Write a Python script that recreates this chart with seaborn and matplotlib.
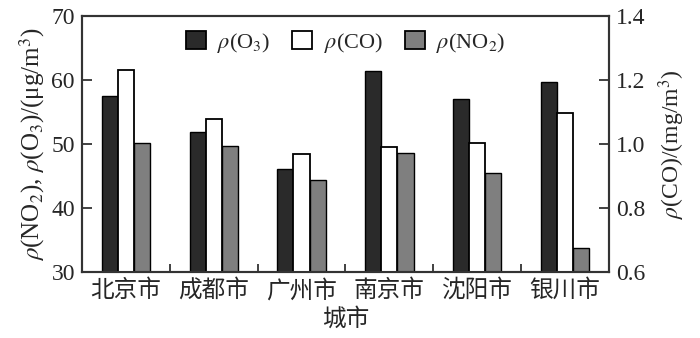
import numpy as np
import pandas as pd
import matplotlib
matplotlib.use("Agg")
import matplotlib.pyplot as plt
from matplotlib.patches import Patch
from matplotlib.ticker import FixedLocator
import seaborn as sns

cities = ["北京市", "成都市", "广州市", "南京市", "沈阳市", "银川市"]
o3 = [57.5, 51.8, 46.1, 61.4, 57.0, 59.6]
co = [1.231, 1.078, 0.969, 0.992, 1.002, 1.096]
no2 = [50.1, 49.7, 44.4, 48.6, 45.4, 33.7]

series = ["O3", "CO", "NO2"]
labels = [r"$\rho$(O$_3$)", r"$\rho$(CO)", r"$\rho$(NO$_2$)"]
colors = {"O3": "#2a2a2a", "CO": "#ffffff", "NO2": "#7f7f7f"}

df = pd.DataFrame({
    "city": cities * 3,
    "pollutant": ["O3"] * 6 + ["CO"] * 6 + ["NO2"] * 6,
    "value": o3 + co + no2,
})

sns.set_theme(style="ticks")
plt.rcParams["font.family"] = ["Liberation Serif", "Noto Sans CJK SC"]
plt.rcParams["mathtext.fontset"] = "stix"

fig = plt.figure(figsize=(7, 3.38), dpi=100)
ax = fig.add_axes([0.117, 0.195, 0.753, 0.758])

left_df = df[df.pollutant != "CO"]
sns.barplot(data=left_df, x="city", y="value", hue="pollutant", hue_order=series,
            order=cities, palette=colors, width=0.55, edgecolor="black", dodge=True,
            linewidth=1.0, ax=ax, legend=False, saturation=1)
ax2 = ax.twinx()
right_df = df[df.pollutant == "CO"]
sns.barplot(data=right_df, x="city", y="value", hue="pollutant", hue_order=series,
            order=cities, palette=colors, width=0.55, edgecolor="black", dodge=True,
            linewidth=1.3, ax=ax2, legend=False, saturation=1)

ax.set_ylim(30, 70)
ax.set_yticks([30, 40, 50, 60, 70])
ax2.set_ylim(0.6, 1.4)
ax2.set_yticks([0.6, 0.8, 1.0, 1.2, 1.4])
ax2.set_yticklabels(["0.6", "0.8", "1.0", "1.2", "1.4"])
ax.set_xlim(-0.5, 5.5)

ax.xaxis.set_minor_locator(FixedLocator([0.5, 1.5, 2.5, 3.5, 4.5]))
ax.tick_params(axis="x", which="major", length=0, labelsize=17, pad=5)
ax.tick_params(axis="x", which="minor", direction="in", length=6, width=1.3, color="#333333")
ax.tick_params(axis="y", direction="in", length=7, width=1.3, labelsize=17, color="#333333", pad=5)
ax2.tick_params(axis="y", direction="in", length=7, width=1.3, labelsize=17, color="#333333", pad=5)

for a in (ax, ax2):
    for s in a.spines.values():
        s.set_linewidth(1.5)
        s.set_color("#333333")

ax.set_xlabel("城市", fontsize=17, labelpad=4)
ax.set_ylabel(r"$\rho$(NO$_2$), $\rho$(O$_3$)/(μg/m$^3$)", fontsize=18, labelpad=3)
ax2.set_ylabel(r"$\rho$(CO)/(mg/m$^3$)", fontsize=17, labelpad=8)

handles = [Patch(facecolor=colors[s], edgecolor="black", linewidth=1.3) for s in series]
ax.legend(handles, labels, loc="center", bbox_to_anchor=(0.5, 0.895), ncol=3,
          frameon=False, fontsize=16, handlelength=0.9, handleheight=0.9,
          columnspacing=1.0, handletextpad=0.5)

fig.savefig("out.png", dpi=100)
